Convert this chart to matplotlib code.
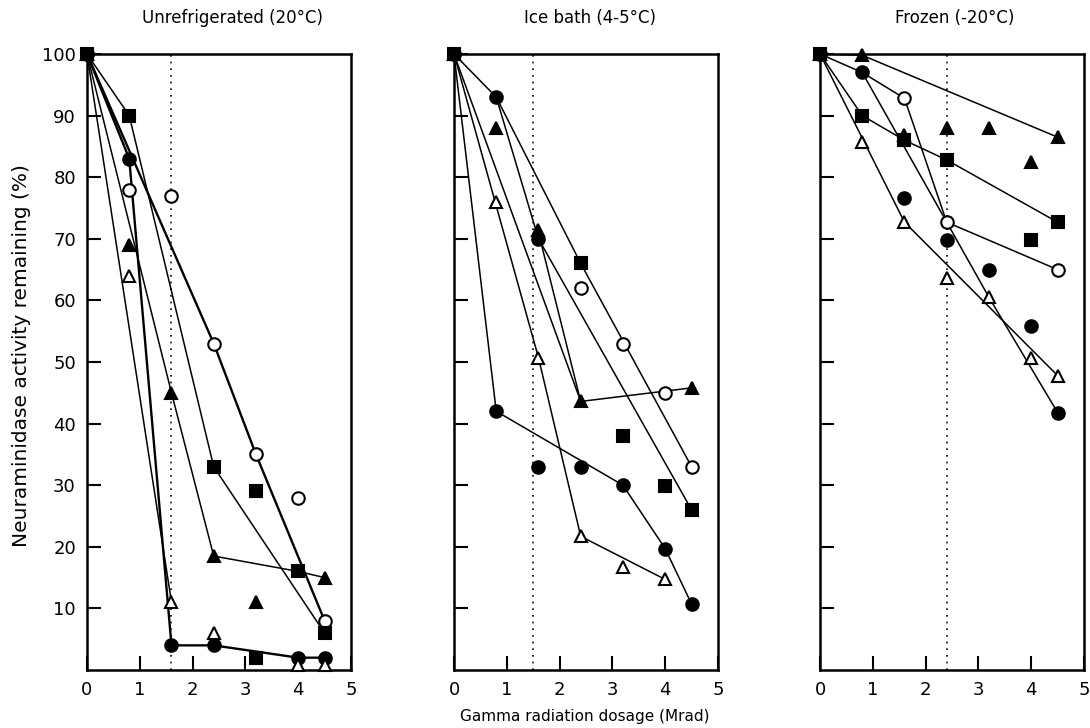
import numpy as np
import matplotlib
matplotlib.use('Agg')
import matplotlib.pyplot as plt

nan = np.nan

# dosis (Mrad) usadas en las tres condiciones
dose = [0, 0.8, 1.6, 2.4, 3.2, 4.0, 4.5]

# Unrefrigerated (20°C) - nan = sin punto
u_fcirc = [100, 83, 4, 4, nan, 2, 2]
u_ocirc = [100, 78, 77, 53, 35, 28, 8]
u_ftri = [100, 69, 45, 18.5, 11, nan, 15]
u_otri = [100, 64, 11, 6, nan, 0.8, 0.8]
u_sq = [100, 90, nan, 33, 29, 16, 6]
u_sq2 = [nan, nan, nan, nan, 2, nan, nan]
u_lines_x = [[0, 0.8, 2.4, 4.5], [0, 0.8, 1.6, 2.4, 4.0, 4.5],
             [0, 2.4, 3.2, 4.5], [0, 1.6, 2.4, 4.0, 4.5], [0, 1.6]]
u_lines_y = [[100, 90, 33, 6], [100, 83, 4, 4, 2, 2],
             [100, 53, 35, 8], [100, 45, 18.5, 16, 15], [100, 11]]
u_cut = 1.6

# Ice bath (4-5°C)
i_fcirc = [100, 93, 70, 33, 30, 19.7, 10.7]
i_fcirc2 = [nan, 42, 33, nan, nan, nan, nan]
i_ocirc = [100, nan, nan, 62, 53, 45, 33]
i_ftri = [100, 88, 71.5, 43.6, nan, nan, 45.8]
i_otri = [100, 76, 50.7, 21.7, 16.8, 14.7, nan]
i_sq = [100, nan, nan, 66, 38, 29.8, 26]
i_lines_x = [[0, 0.8, 3.2, 4.0, 4.5], [0, 1.6, 2.4, 4.0],
             [0, 2.4, 4.5], [0, 0.8, 1.6, 4.5], [0.8, 2.4, 4.5], [1.6, 2.4]]
i_lines_y = [[100, 42, 30, 19.7, 10.7], [100, 50.7, 21.7, 14.7],
             [100, 43.6, 45.8], [100, 93, 70, 26], [93, 66, 33], [71, 43.6]]
i_cut = 1.5

# Frozen (-20°C)
f_fcirc = [100, 97, 76.7, 69.8, 65, 55.9, 41.8]
f_ocirc = [100, nan, 92.8, 72.7, nan, nan, 65]
f_ftri = [100, 99.8, 86.8, 88, 88, 82.5, 86.5]
f_otri = [100, 85.7, 72.7, 63.7, 60.5, 50.6, 47.8]
f_sq = [100, 90, 86, 82.8, nan, 69.8, 72.7]
f_lines_x = [[0, 0.8, 4.5], [0, 0.8, 1.6, 2.4, 4.5], [0, 0.8, 1.6, 2.4, 4.5],
             [0.8, 2.4, 3.2, 4.5], [0, 1.6, 4.5]]
f_lines_y = [[100, 99.8, 86.5], [100, 97, 92.8, 72.7, 65], [100, 90, 86, 82.8, 72.7],
             [97, 72.7, 60.5, 41.8], [100, 72.7, 47.8]]
f_cut = 2.4

titles = ['Unrefrigerated (20°C)', 'Ice bath (4-5°C)', 'Frozen (-20°C)']

fig = plt.figure(figsize=(10.9, 7.28), dpi=100)
lefts = [87 / 1090, 454 / 1090, 820 / 1090]
title_x = [232, 590, 955]
paneles = [
    ([u_fcirc, u_ocirc, u_ftri, u_otri, u_sq, u_sq2], u_lines_x, u_lines_y, u_cut),
    ([i_fcirc, i_ocirc, i_ftri, i_otri, i_sq, i_fcirc2], i_lines_x, i_lines_y, i_cut),
    ([f_fcirc, f_ocirc, f_ftri, f_otri, f_sq], f_lines_x, f_lines_y, f_cut),
]
# lineas mas gruesas (panel, indice)
gruesas = [(0, 2), (0, 1)]
# estilo de cada serie: marcador, relleno, tamano
estilos = [('o', 'black', 9), ('o', 'white', 9), ('^', 'black', 8),
           ('^', 'white', 8), ('s', 'black', 8)]

for k, (series, lx, ly, cut) in enumerate(paneles):
    ax = fig.add_axes([lefts[k], 58 / 728, 264 / 1090, 616 / 728])
    # linea de puntos vertical
    ax.plot([cut, cut], [0, 100], color='black', lw=1.2, ls=(0, (1, 3)), zorder=1)
    for j, (xs, ys) in enumerate(zip(lx, ly)):
        w = 1.7 if (k, j) in gruesas else 1.1
        ax.plot(xs, ys, color='black', lw=w, zorder=2, solid_capstyle='round')
    for j, ys in enumerate(series):
        if k == 0 and j == 5:
            m, fc, ms = estilos[4]
        elif k == 1 and j == 5:
            m, fc, ms = estilos[0]
        else:
            m, fc, ms = estilos[j]
        ax.plot(dose, ys, ls='none', marker=m, ms=ms, mfc=fc, mec='black',
                mew=1.5, zorder=3, clip_on=False)
    ax.set_xlim(0, 5)
    ax.set_ylim(0, 100)
    ax.set_xticks(range(0, 6))
    ax.set_yticks(range(10, 101, 10))
    ax.tick_params(direction='in', length=10, width=1.5, labelsize=13, pad=8)
    if k > 0:
        ax.set_yticklabels([])
    for s in ax.spines.values():
        s.set_linewidth(1.8)
    fig.text(title_x[k] / 1090, 1 - 18 / 728, titles[k], ha='center',
             va='center', fontsize=12)

fig.text(22 / 1090, 1 - 356 / 728, 'Neuraminidase activity remaining (%)',
         rotation=90, ha='center', va='center', fontsize=14.5)
fig.text(585 / 1090, 1 - 716 / 728, 'Gamma radiation dosage (Mrad)',
         ha='center', va='center', fontsize=11)

fig.savefig('out.png', dpi=100)
